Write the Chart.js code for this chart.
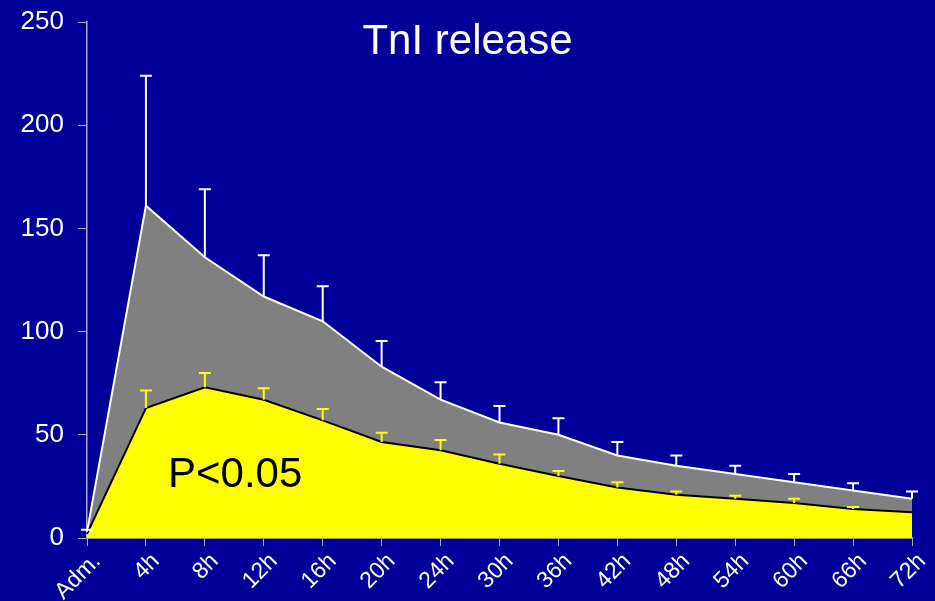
<!DOCTYPE html>
<html lang="en">
<head>
  <meta charset="UTF-8">
  <title>TnI release</title>
  <script src="https://cdn.jsdelivr.net/npm/chart.js"></script>
  <style>
    html, body { margin: 0; padding: 0; background: #000099; }
    #wrap { width: 935px; height: 601px; }
  </style>
</head>
<body>
  <div id="wrap"><canvas id="tniChart" width="935" height="601"></canvas></div>

  <script>
    // data
    const labels = ['Adm.', '4h', '8h', '12h', '16h', '20h', '24h', '30h', '36h', '42h', '48h', '54h', '60h', '66h', '72h'];
    const grayMean = [3, 161, 136, 117, 105, 83, 67, 56, 50, 40, 35, 31, 27, 23, 19];
    const graySd = [1, 63, 33, 20, 17, 12.5, 8.5, 8, 8, 6.5, 5, 4, 4, 3.5, 3.5];
    const yellowMean = [2, 63, 73, 67, 57, 46.5, 42.5, 36, 30, 24.5, 21, 19, 17, 14, 12.5];
    const yellowSd = [0, 8.5, 7, 5.5, 5.5, 4.5, 5, 4.5, 2.5, 2.5, 1.5, 1.5, 2, 1, 0];
    const yTicks = [0, 50, 100, 150, 200, 250];

    const FONT = "'Liberation Sans', Arial, sans-serif";
    const axisColor = '#aaaacc';

    // error bars (upper half only) on top of each area
    const errorBars = {
      id: 'errorBars',
      afterDatasetsDraw(chart) {
        const ctx = chart.ctx;
        const yScale = chart.scales.y;
        chart.data.datasets.forEach((ds, di) => {
          const meta = chart.getDatasetMeta(di);
          ctx.save();
          ctx.strokeStyle = ds.errColor;
          ctx.lineWidth = 2;
          meta.data.forEach((pt, i) => {
            const sd = ds.sd[i];
            if (!sd) return;
            const top = yScale.getPixelForValue(ds.data[i] + sd);
            ctx.beginPath();
            ctx.moveTo(pt.x, pt.y);
            ctx.lineTo(pt.x, top);
            ctx.moveTo(pt.x - 6, top);
            ctx.lineTo(pt.x + 6, top);
            ctx.stroke();
          });
          ctx.restore();
        });
      }
    };

    // title and p-value text
    const labelsText = {
      id: 'labelsText',
      afterDraw(chart) {
        const ctx = chart.ctx;
        ctx.save();
        ctx.font = '42px ' + FONT;
        ctx.textBaseline = 'alphabetic';
        ctx.fillStyle = '#ffffff';
        ctx.textAlign = 'center';
        ctx.fillText('TnI release', chart.width / 2, 54);
        ctx.fillStyle = '#000000';
        ctx.textAlign = 'left';
        ctx.fillText('P<0.05', 168, 487);
        ctx.restore();
      }
    };

    new Chart(document.getElementById('tniChart'), {
      type: 'line',
      data: {
        labels: labels,
        datasets: [
          {
            data: yellowMean,
            sd: yellowSd,
            errColor: '#ffff00',
            borderColor: '#000000',
            borderWidth: 2,
            backgroundColor: '#ffff00',
            fill: 'origin',
            tension: 0,
            pointRadius: 0
          },
          {
            data: grayMean,
            sd: graySd,
            errColor: '#ffffff',
            borderColor: '#ffffff',
            borderWidth: 2,
            backgroundColor: '#808080',
            fill: 'origin',
            tension: 0,
            pointRadius: 0
          }
        ]
      },
      options: {
        responsive: false,
        animation: false,
        layout: { padding: { top: 22, right: 23, left: 0, bottom: 0 } },
        plugins: {
          legend: { display: false },
          tooltip: { enabled: false }
        },
        scales: {
          x: {
            offset: false,
            grid: { display: true, drawOnChartArea: false, drawTicks: true, tickLength: 8, color: axisColor },
            border: { display: true, color: '#9a9a9a', width: 2 },
            ticks: {
              color: '#ffffff',
              font: { family: FONT, size: 23 },
              maxRotation: 45,
              minRotation: 45,
              autoSkip: false,
              labelOffset: 10,
              padding: 2
            },
            afterFit(scale) {
              scale.height = 63;
              scale.paddingLeft = 0;
              scale.paddingRight = 0;
            }
          },
          y: {
            min: 0,
            max: 250,
            afterBuildTicks(scale) { scale.ticks = yTicks.map(v => ({ value: v })); },
            grid: { display: true, drawOnChartArea: false, drawTicks: true, tickLength: 9, color: axisColor },
            border: { display: true, color: axisColor, width: 1.5 },
            ticks: {
              color: '#ffffff',
              font: { family: FONT, size: 26 },
              padding: 14
            },
            afterFit(scale) {
              scale.width = 87;
              scale.paddingTop = 0;
              scale.paddingBottom = 0;
            }
          }
        }
      },
      plugins: [errorBars, labelsText]
    });
  </script>
</body>
</html>
